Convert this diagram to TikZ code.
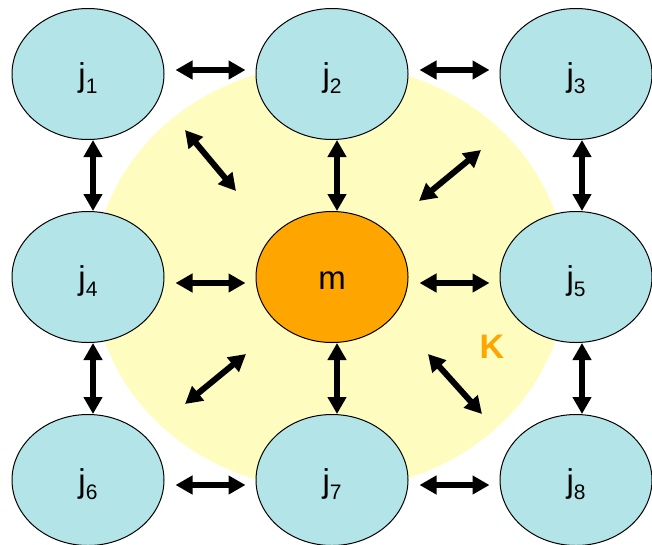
\documentclass[tikz,border=0pt]{standalone}
\usepackage{fontspec}
\setmainfont{Liberation Sans}
\usetikzlibrary{arrows.meta,positioning,shapes.geometric}
\definecolor{cellFill}{HTML}{B3E5E8}
\definecolor{hubFill}{HTML}{FFA500}
\definecolor{zoneFill}{HTML}{FFFCC0}
\definecolor{zoneText}{HTML}{FFA500}
\tikzset{
  cell/.style={
    ellipse, draw=black, line width=1pt, fill=cellFill,
    minimum width=152pt, minimum height=131pt, inner sep=0pt,
    font=\fontsize{33}{38}\selectfont, text height=25pt, text depth=0pt
  },
  hub/.style={cell, fill=hubFill},
  zone/.style={ellipse, fill=zoneFill, minimum width=472pt, minimum height=426pt},
  link/.style={{Triangle[length=17pt,width=18pt]}-{Triangle[length=17pt,width=18pt]}, line width=6pt},
  hlink/.style={link, shorten <=11pt, shorten >=10pt}
}
\newcommand{\jlab}[1]{j\raisebox{-7pt}{\fontsize{21}{24}\selectfont #1}}

\begin{document}
\begin{tikzpicture}[x=1pt, y=-1pt, node distance=71pt and 91pt]
  \useasboundingbox (0,0) rectangle (652,544);

  % neighbourhood of m
  \node[zone] (zone) at (330,277) {};
  \node[font=\fontsize{34}{40}\selectfont\bfseries, text=zoneText] (klab) at (492,347) {K};

  % grid of nodes
  \node[cell] at (88,74)         (j1) {\jlab{1}};
  \node[cell, right=of j1]       (j2) {\jlab{2}};
  \node[cell, right=of j2]       (j3) {\jlab{3}};
  \node[cell, below=of j1]       (j4) {\jlab{4}};
  \node[hub,  below=of j2]       (m)  {m};
  \node[cell, below=of j3]       (j5) {\jlab{5}};
  \node[cell, below=of j4]       (j6) {\jlab{6}};
  \node[cell, below=of m]        (j7) {\jlab{7}};
  \node[cell, below=of j5]       (j8) {\jlab{8}};

  % horizontal links
  \draw[hlink] ([yshift=4pt]j1.east)  -- ([yshift=4pt]j2.west);
  \draw[hlink] ([yshift=4pt]j2.east)  -- ([yshift=4pt]j3.west);
  \draw[hlink] ([yshift=-6pt]j4.east) -- ([yshift=-6pt]m.west);
  \draw[hlink] ([yshift=-6pt]m.east)  -- ([yshift=-6pt]j5.west);
  \draw[hlink] ([yshift=-5pt]j6.east) -- ([yshift=-5pt]j7.west);
  \draw[hlink] ([yshift=-5pt]j7.east) -- ([yshift=-5pt]j8.west);

  % vertical links
  \draw[link] ([xshift=5pt]j1.south) -- ([xshift=5pt]j4.north);
  \draw[link] ([xshift=5pt]j4.south) -- ([xshift=5pt]j6.north);
  \draw[link] ([xshift=5pt]j2.south) -- ([xshift=5pt]m.north);
  \draw[link] ([xshift=5pt]m.south)  -- ([xshift=5pt]j7.north);
  \draw[link] ([xshift=6pt]j3.south) -- ([xshift=6pt]j5.north);
  \draw[link] ([xshift=6pt]j5.south) -- ([xshift=6pt]j8.north);

  % diagonal links
  \draw[link] ([xshift=97pt,yshift=-56pt]j1.center) -- ([xshift=-96pt,yshift=86pt]m.center);
  \draw[link] ([xshift=87pt,yshift=76pt]m.center)   -- ([xshift=-95pt,yshift=-76pt]j3.center);
  \draw[link] ([xshift=97pt,yshift=76pt]j6.center)  -- ([xshift=-86pt,yshift=-77pt]m.center);
  \draw[link] ([xshift=96pt,yshift=-77pt]m.center)  -- ([xshift=-94pt,yshift=66pt]j8.center);
\end{tikzpicture}
\end{document}
